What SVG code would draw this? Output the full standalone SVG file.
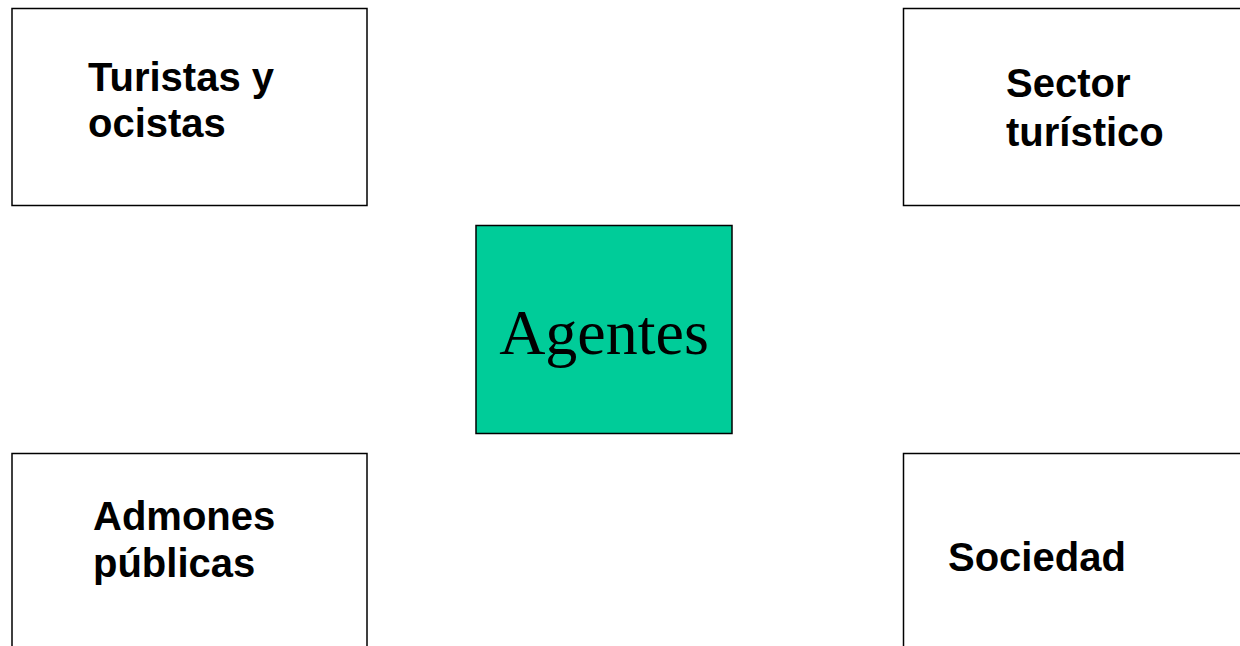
<svg xmlns="http://www.w3.org/2000/svg" width="1240" height="646" viewBox="0 0 1240 646">
<style>
.box{fill:#fff;stroke:#000;stroke-width:1.5}
.lbl{font-family:"Liberation Sans",Arial,sans-serif;font-weight:bold;font-size:40px;fill:#000}
.ctr{font-family:"Liberation Serif","Times New Roman",serif;font-size:64px;fill:#000}
</style>
<rect width="1240" height="646" fill="#fff"/>
<g id="connectors"></g>
<g id="turistas">
<rect class="box" x="12" y="8.5" width="355" height="197"/>
<text class="lbl" x="88" y="91">Turistas y</text>
<text class="lbl" x="88" y="137">ocistas</text>
</g>
<g id="sector">
<rect class="box" x="903.5" y="8.5" width="360" height="197"/>
<text class="lbl" x="1006" y="97">Sector</text>
<text class="lbl" x="1006" y="146">turístico</text>
</g>
<g id="agentes">
<rect x="476" y="225.5" width="256" height="208" fill="#00CC99" stroke="#000" stroke-width="1.5"/>
<text class="ctr" x="604" y="354" text-anchor="middle">Agentes</text>
</g>
<g id="admones">
<rect class="box" x="12" y="453.5" width="355" height="220"/>
<text class="lbl" x="93" y="530">Admones</text>
<text class="lbl" x="93" y="577">públicas</text>
</g>
<g id="sociedad">
<rect class="box" x="903.5" y="453.5" width="360" height="220"/>
<text class="lbl" x="948" y="571">Sociedad</text>
</g>
</svg>
